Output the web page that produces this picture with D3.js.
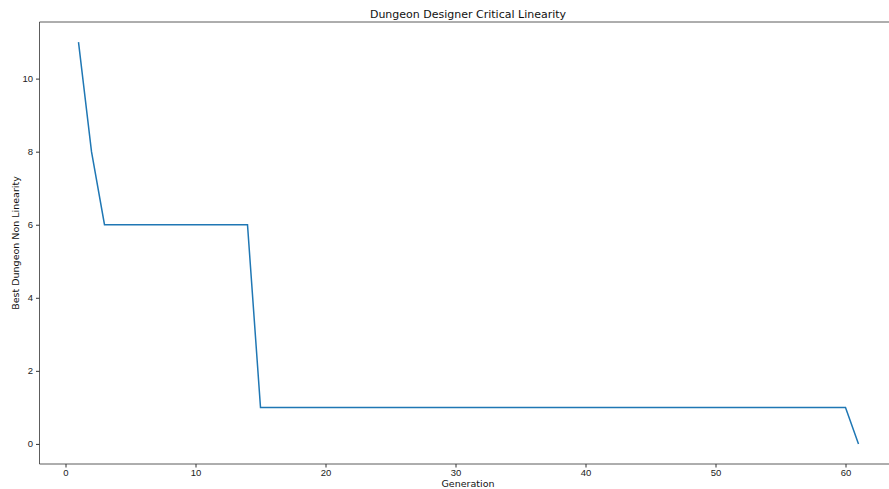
<!DOCTYPE html>
<html lang="en">
<head>
<meta charset="UTF-8" />
<title>Dungeon Designer Critical Linearity</title>
<script src="https://d3js.org/d3.v7.min.js"></script>
<style>
  body { margin: 0; background: #fff; overflow: hidden; }
  svg { display: block; font-family: "DejaVu Sans", sans-serif; }
  .tick text { font-size: 9.5px; fill: #222; }
  .tick line { stroke: #333; }
</style>
</head>
<body>
<svg id="chart" width="889" height="489"></svg>
<script>
  const generations = d3.range(1, 62);
  const nonLinearity = [
    11, 8, 6, 6, 6, 6, 6, 6, 6, 6,
    6, 6, 6, 6, 1, 1, 1, 1, 1, 1,
    1, 1, 1, 1, 1, 1, 1, 1, 1, 1,
    1, 1, 1, 1, 1, 1, 1, 1, 1, 1,
    1, 1, 1, 1, 1, 1, 1, 1, 1, 1,
    1, 1, 1, 1, 1, 1, 1, 1, 1, 1,
    0
  ];
  const xTicks = [0, 10, 20, 30, 40, 50, 60];
  const yTicks = [0, 2, 4, 6, 8, 10];

  const svg = d3.select("#chart");
  const plotLeft = 39.5, plotTop = 22, plotBottom = 464;
  // the axes run past the right edge of the window (clipped)
  const plotRight = plotLeft + 66 * 13;

  const x = d3.scaleLinear().domain([-2, 64]).range([plotLeft, plotRight]);
  const y = d3.scaleLinear().domain([-0.55, 11.55]).range([plotBottom, plotTop]);

  svg.append("g")
    .attr("transform", `translate(0,${plotBottom})`)
    .call(d3.axisBottom(x).tickValues(xTicks).tickSize(3.5).tickPadding(1.5).tickFormat(d3.format("d")))
    .call(g => g.select(".domain").remove());

  svg.append("g")
    .attr("transform", `translate(${plotLeft},0)`)
    .call(d3.axisLeft(y).tickValues(yTicks).tickSize(3.5).tickPadding(3).tickFormat(d3.format("d")))
    .call(g => g.select(".domain").remove());

  // spines
  svg.append("line").attr("x1", plotLeft).attr("x2", plotLeft).attr("y1", plotTop).attr("y2", plotBottom)
    .attr("stroke", "#333").attr("stroke-width", 0.8);
  svg.append("line").attr("x1", plotLeft).attr("x2", plotRight).attr("y1", plotBottom).attr("y2", plotBottom)
    .attr("stroke", "#333").attr("stroke-width", 0.8);
  svg.append("line").attr("x1", plotLeft).attr("x2", plotRight).attr("y1", plotTop).attr("y2", plotTop)
    .attr("stroke", "#333").attr("stroke-width", 0.8);

  const line = d3.line()
    .x((d, i) => x(generations[i]))
    .y(d => y(d));

  svg.append("path")
    .datum(nonLinearity)
    .attr("fill", "none")
    .attr("stroke", "#1f77b4")
    .attr("stroke-width", 1.5)
    .attr("d", line);

  svg.append("text")
    .attr("x", 468).attr("y", 18)
    .attr("text-anchor", "middle")
    .attr("font-size", 11)
    .attr("fill", "#111")
    .text("Dungeon Designer Critical Linearity");

  svg.append("text")
    .attr("x", 468).attr("y", 487)
    .attr("text-anchor", "middle")
    .attr("font-size", 9.5)
    .attr("fill", "#111")
    .text("Generation");

  svg.append("text")
    .attr("transform", `translate(19,${(plotTop + plotBottom) / 2}) rotate(-90)`)
    .attr("text-anchor", "middle")
    .attr("font-size", 9.5)
    .attr("fill", "#111")
    .text("Best Dungeon Non Linearity");
</script>
</body>
</html>
